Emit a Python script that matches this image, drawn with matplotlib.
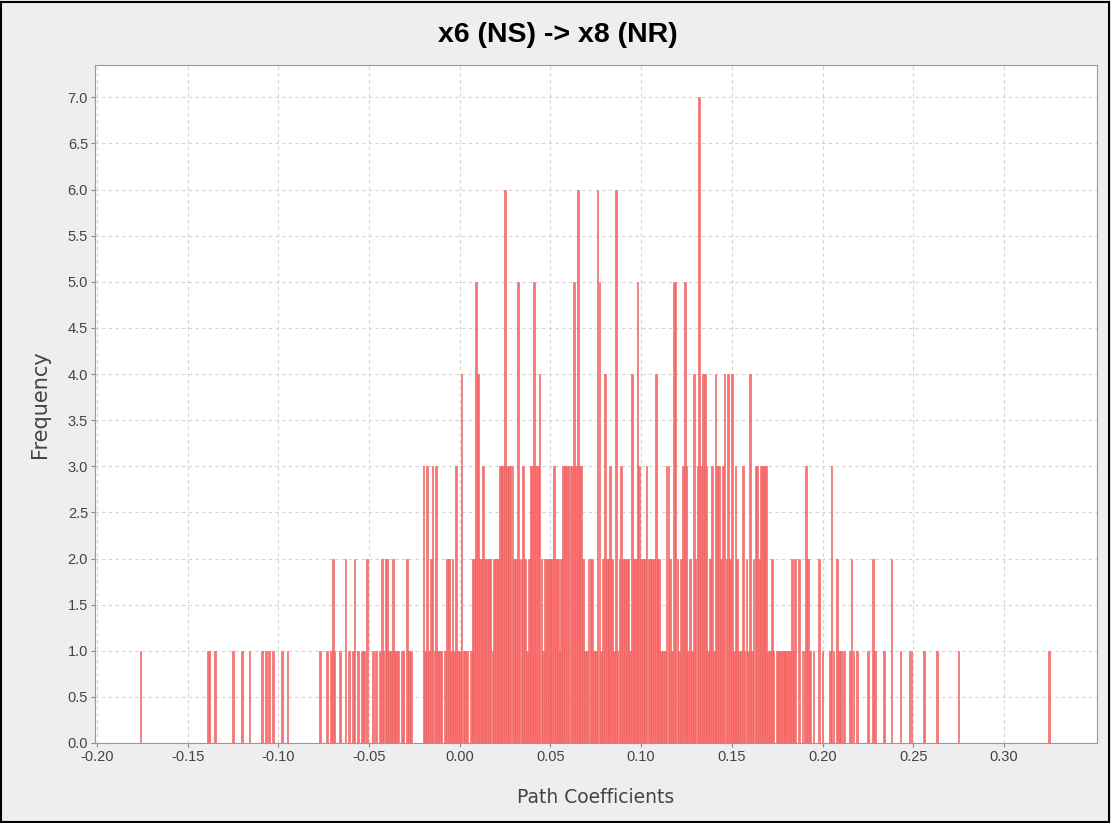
import matplotlib
matplotlib.use("Agg")
import matplotlib.pyplot as plt
from matplotlib.patches import Rectangle
import numpy as np

# Bin positions (path coefficient, in thousandths) and frequencies
coef_milli = [
    -176,
    -139, -138, -135, -125, -120, -116,
    -109, -107, -105, -103, -98, -95,
    -77, -73, -71, -70, -69, -66, -63, -61,
    -59, -58, -56, -54, -53, -51, -48, -46,
    -44, -43, -42, -41, -40, -39, -38, -37, -36, -35, -34, -32, -31, -29, -28, -27,
    -20, -19, -18, -17, -16, -15, -14, -13, -12, -11, -10,
    -8, -7, -6, -5, -4, -3, -2, -1, 0, 1, 2, 3, 4,
    6, 7, 8, 9, 10, 11, 12, 13, 14, 15, 16, 17, 18, 19, 20,
    21, 22, 23, 24, 25, 26, 27, 28, 29, 30, 31, 32, 33, 34, 35, 36, 37, 38, 39, 40,
    41, 42, 43, 44, 45, 46, 47, 48, 49, 50, 51, 52, 53, 54, 55, 56, 57, 58, 59, 60,
    61, 62, 63, 64, 65, 66, 67, 68, 69, 70, 71, 72, 73, 74, 75, 76, 77, 78, 79, 80,
    81, 82, 83, 84, 85, 86, 87, 88, 89, 90, 91, 92, 93, 94, 95, 96, 97, 98, 99, 100,
    101, 102, 103, 104, 105, 106, 107, 108, 109, 110, 111, 112, 113, 114,
    115, 116, 117, 118, 119, 120, 121, 122, 123, 124, 125, 126, 127, 128, 129, 130,
    131, 132, 133, 134, 135, 136, 137, 138, 139, 140, 141, 142, 143, 144, 145, 146,
    147, 148, 149, 150, 151, 152, 153, 154, 155, 156, 157, 158, 159, 160, 161, 162,
    163, 164, 165, 166, 167, 168,
    169, 170, 171, 172, 173, 175, 176, 177, 178, 179, 180, 181, 182, 183, 184, 185,
    187, 189, 190, 191, 192, 193, 195, 198, 200, 204, 205, 206, 208, 209, 210, 212,
    215, 216, 217, 219,
    225, 228, 229, 234, 238, 243, 248, 249, 256, 263, 275, 325,
]
frequency = [
    1,
    1, 1, 1, 1, 1, 1,
    1, 1, 1, 1, 1, 1,
    1, 1, 1, 2, 1, 1, 2, 1,
    1, 2, 1, 1, 1, 2, 1, 1,
    1, 2, 1, 2, 2, 1, 1, 2, 1, 1, 1, 1, 1, 2, 1, 1,
    3, 1, 3, 1, 2, 3, 1, 3, 1, 1, 1,
    1, 2, 2, 1, 2, 1, 3, 1, 1, 4, 1, 1, 1,
    1, 2, 2, 5, 4, 2, 2, 3, 2, 2, 2, 2, 1, 2, 2,
    2, 3, 3, 3, 6, 3, 3, 3, 3, 2, 2, 5, 2, 2, 3, 2, 1, 2, 3, 3,
    5, 3, 3, 4, 2, 1, 2, 2, 2, 2, 2, 3, 2, 2, 1, 2, 3, 3, 3, 3,
    3, 3, 5, 3, 6, 3, 3, 2, 1, 1, 2, 2, 2, 1, 1, 6, 5, 1, 2, 4,
    2, 2, 3, 2, 1, 6, 1, 2, 3, 2, 2, 2, 2, 1, 4, 2, 2, 5, 3, 2,
    2, 2, 3, 2, 2, 2, 2, 4, 2, 2, 1, 1, 1, 3,
    3, 2, 1, 5, 5, 2, 1, 2, 3, 5, 3, 1, 2, 1, 4, 2,
    3, 7, 3, 4, 4, 3, 1, 2, 3, 1, 4, 3, 3, 2, 3, 4,
    2, 4, 2, 4, 1, 3, 2, 1, 1, 3, 1, 2, 1, 4, 1, 2,
    3, 3, 2, 3, 3, 3,
    3, 1, 1, 2, 1, 1, 1, 1, 1, 1, 1, 1, 1, 2, 1, 2,
    2, 1, 1, 3, 2, 1, 1, 2, 1, 1, 3, 1, 2, 1, 1, 1,
    1, 2, 1, 1,
    1, 2, 1, 1, 2, 1, 1, 1, 1, 1, 1, 1,
]

title = "x6 (NS) -> x8 (NR)"
xlabel = "Path Coefficients"
ylabel = "Frequency"
xticks = [-0.20, -0.15, -0.10, -0.05, 0.00, 0.05, 0.10, 0.15, 0.20, 0.25, 0.30]
yticks = [0.0, 0.5, 1.0, 1.5, 2.0, 2.5, 3.0, 3.5, 4.0, 4.5, 5.0, 5.5, 6.0, 6.5, 7.0]

W, H = 1111, 823
fig = plt.figure(figsize=(W / 100, H / 100), dpi=100, facecolor="#eeeeee")
fig.patches.append(Rectangle((1 / W, 1 / H), 1 - 3 / W, 1 - 3 / H, transform=fig.transFigure,
                             fill=False, edgecolor="black", linewidth=1.5))

ax = fig.add_axes([95 / W, 1 - 743 / H, (1097 - 95) / W, (743 - 65) / H])
ax.set_facecolor("white")

x = np.array(coef_milli) / 1000.0
ax.bar(x, frequency, width=0.00095, color="#ff7272", edgecolor="#e85c5c",
       linewidth=0.4, align="center", zorder=2)

ax.set_xlim(-0.2011, 0.3513)
ax.set_ylim(0, 7.35)
ax.set_xticks(xticks)
ax.set_yticks(yticks)
ax.set_xticklabels([f"{t:.2f}" for t in xticks])
ax.set_yticklabels([f"{t:.1f}" for t in yticks])

ax.grid(True, color="#d4d4d4", linestyle=(0, (3, 3)), linewidth=0.8, zorder=0)
ax.set_axisbelow(True)
for s in ax.spines.values():
    s.set_color("#9a9a9a")
    s.set_linewidth(0.8)

font = ["Liberation Sans", "DejaVu Sans"]
ax.tick_params(axis="both", length=3, width=0.8, color="#8a8a8a", labelcolor="#444444",
               labelsize=10.5, pad=2)
for lab in ax.get_xticklabels() + ax.get_yticklabels():
    lab.set_fontfamily(font)

lfont = ["DejaVu Sans"]
ax.set_xlabel(xlabel, fontsize=13.5, color="#444444", family=lfont, labelpad=17)
ax.set_ylabel(ylabel, fontsize=15, color="#444444", family=lfont, labelpad=13)

fig.text(558 / W, 1 - 35 / H, title, ha="center", va="center", fontsize=20.5, fontweight="bold",
         family=["Liberation Sans", "DejaVu Sans"], color="black")

fig.savefig("out.png", dpi=100, facecolor=fig.get_facecolor())
